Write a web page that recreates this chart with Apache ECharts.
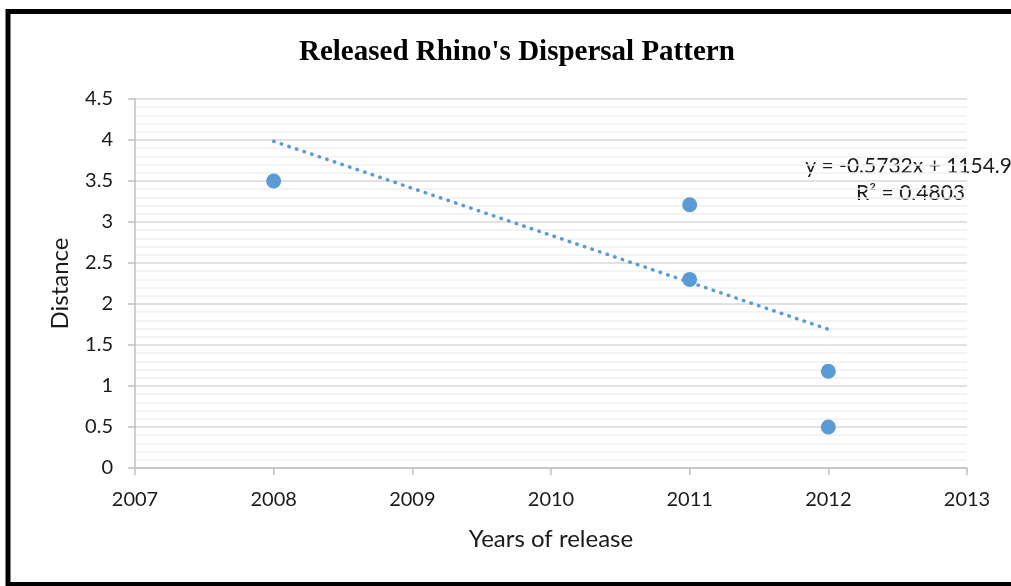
<!DOCTYPE html>
<html>
<head>
<meta charset="utf-8">
<title>Released Rhino's Dispersal Pattern</title>
<script src="https://cdn.jsdelivr.net/npm/echarts@6/dist/echarts.min.js"></script>
<style>
  html, body { margin: 0; padding: 0; background: #ffffff; }
  #chart { width: 1011px; height: 586px; }
</style>
</head>
<body>
<div id="chart"></div>
<script>
// Release year and distance travelled for each rhino
const releaseYears = [2008, 2011, 2011, 2012, 2012];
const distances = [3.5, 3.21, 2.3, 1.18, 0.5];

// Linear trendline (least squares) and its label
const trendSlope = -0.5732;
const trendIntercept = 1154.97;
const trendRange = [2008, 2012];
const trendEquation = 'y = -0.5732x + 1154.9';
const trendR2 = 'R² = 0.4803';

const points = releaseYears.map((year, i) => [year, distances[i]]);
const trendPoints = trendRange.map(x => [x, trendSlope * x + trendIntercept]);

const FONT = 'Lato, "Open Sans", sans-serif';
const BLUE = '#5b9bd5';
const TEXT = '#1a1a1a';

const chart = echarts.init(document.getElementById('chart'), null, { renderer: 'canvas' });
chart.setOption({
  animation: false,
  backgroundColor: '#ffffff',
  title: {
    text: "Released Rhino's Dispersal Pattern",
    left: 294,
    top: 33,
    textStyle: {
      fontFamily: '"Liberation Serif", "Times New Roman", serif',
      fontWeight: 'bold',
      fontSize: 29,
      color: '#000000'
    }
  },
  grid: { left: 135, right: 44, top: 99, bottom: 118 },
  xAxis: {
    type: 'value',
    min: 2007,
    max: 2013,
    interval: 1,
    name: 'Years of release',
    nameLocation: 'middle',
    nameGap: 59,
    nameTextStyle: { fontFamily: FONT, fontSize: 24, color: TEXT },
    axisLine: { show: true, onZero: false, lineStyle: { color: '#bfbfbf', width: 1.5 } },
    axisTick: { show: true, inside: false, length: 7, lineStyle: { color: '#bfbfbf', width: 1.5 } },
    axisLabel: {
      margin: 22,
      fontFamily: FONT,
      fontSize: 20,
      color: TEXT,
      formatter: v => String(v)
    },
    splitLine: { show: false }
  },
  yAxis: {
    type: 'value',
    min: 0,
    max: 4.5,
    interval: 0.5,
    name: 'Distance',
    nameLocation: 'middle',
    nameGap: 63,
    nameTextStyle: { fontFamily: FONT, fontSize: 24, color: TEXT },
    axisLine: { show: true, lineStyle: { color: '#bfbfbf', width: 1.5 } },
    axisTick: { show: true, inside: false, length: 7, lineStyle: { color: '#bfbfbf', width: 1.5 } },
    axisLabel: {
      margin: 22,
      fontFamily: FONT,
      fontSize: 20,
      color: TEXT,
      formatter: v => String(v)
    },
    splitLine: { show: true, lineStyle: { color: '#d9d9d9', width: 1.5 } },
    minorTick: { show: false, splitNumber: 5 },
    minorSplitLine: { show: true, lineStyle: { color: '#efefef', width: 1.5 } }
  },
  series: [
    {
      name: 'Trendline',
      type: 'line',
      data: trendPoints,
      showSymbol: false,
      symbol: 'none',
      silent: true,
      z: 2,
      lineStyle: { color: BLUE, width: 3.5, type: [0.5, 7.5], cap: 'round' }
    },
    {
      name: 'Distance',
      type: 'scatter',
      data: points,
      symbol: 'circle',
      symbolSize: 15,
      z: 3,
      itemStyle: { color: BLUE, opacity: 1 }
    }
  ],
  graphic: [
    {
      type: 'text',
      right: -1,
      top: 156,
      style: { text: trendEquation, fontFamily: FONT, fontSize: 21, fill: TEXT, textAlign: 'right' }
    },
    {
      type: 'text',
      right: 46,
      top: 183,
      style: { text: trendR2, fontFamily: FONT, fontSize: 21, fill: TEXT, textAlign: 'right' }
    },
    {
      type: 'rect',
      shape: { x: 8, y: 11.5, width: 1100, height: 573 },
      style: { fill: 'none', stroke: '#000000', lineWidth: 5 },
      z: 100
    }
  ]
});
</script>
</body>
</html>
